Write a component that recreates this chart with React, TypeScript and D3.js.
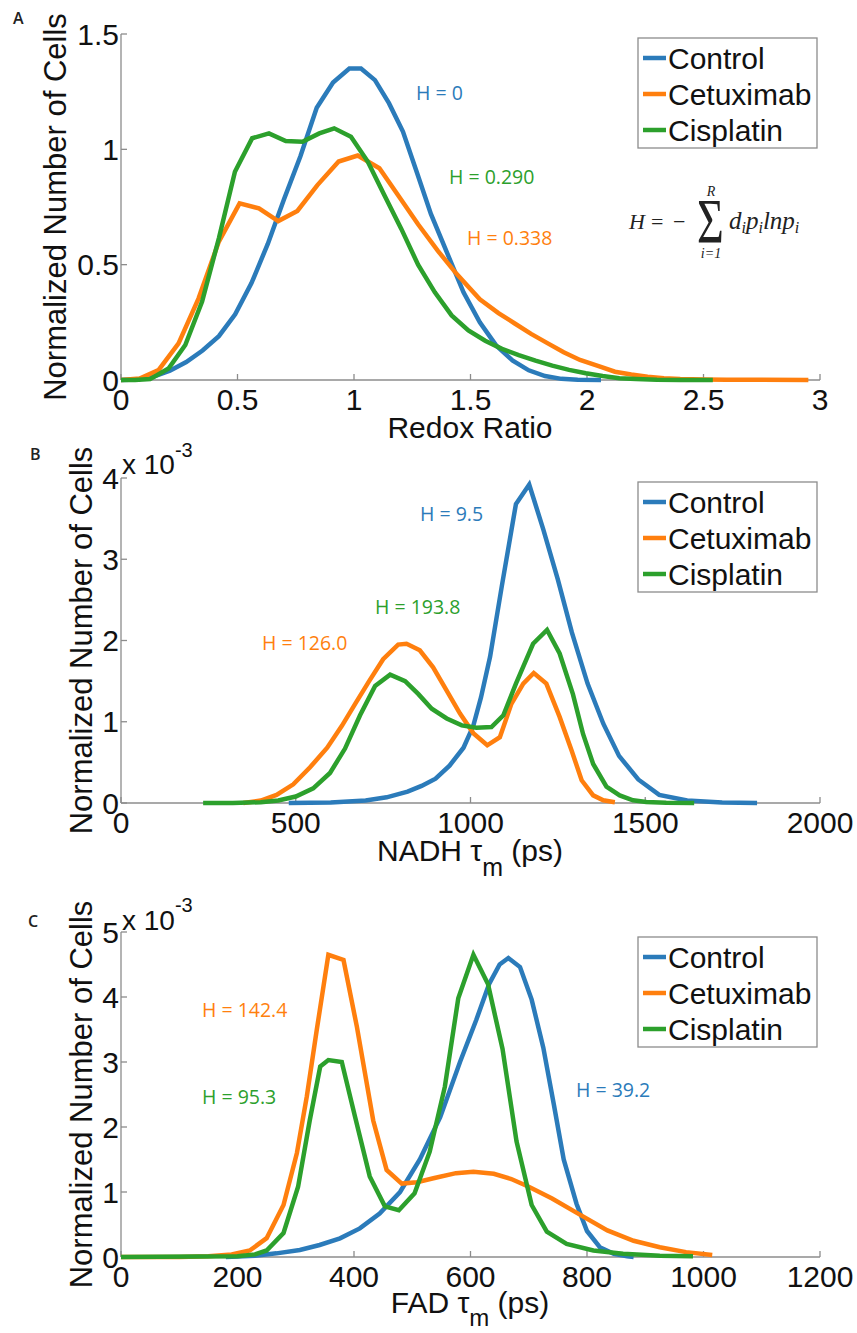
import React from 'react';
import * as d3 from 'd3';

type Pt = [number, number];

// ---------- series meta ----------
const seriesNames = ['Control', 'Cetuximab', 'Cisplatin'];
const seriesColors = ['#2b7bba', '#ff7f0e', '#2ca02c'];

// ---------- Panel A: Redox Ratio ----------
const redoxControl: Pt[] = [
  [0, 0], [0.07, 0.002], [0.14, 0.015], [0.21, 0.04], [0.28, 0.078], [0.35, 0.128], [0.42, 0.19],
  [0.49, 0.285], [0.56, 0.42], [0.63, 0.59], [0.7, 0.785], [0.77, 0.97], [0.84, 1.18], [0.91, 1.29],
  [0.98, 1.35], [1.03, 1.35], [1.09, 1.3], [1.15, 1.2], [1.21, 1.077], [1.27, 0.9], [1.33, 0.72],
  [1.4, 0.55], [1.47, 0.38], [1.54, 0.25], [1.61, 0.15], [1.68, 0.085], [1.75, 0.042], [1.82, 0.017],
  [1.89, 0.005], [1.96, 0.001], [2.06, 0],
];
const redoxCetuximab: Pt[] = [
  [0, 0], [0.08, 0.006], [0.161, 0.043], [0.247, 0.159], [0.333, 0.354], [0.42, 0.6], [0.509, 0.766],
  [0.592, 0.744], [0.675, 0.689], [0.757, 0.733], [0.843, 0.845], [0.934, 0.947], [1.016, 0.973],
  [1.109, 0.918], [1.19, 0.8], [1.275, 0.675], [1.36, 0.56], [1.44, 0.46], [1.54, 0.35], [1.62, 0.29],
  [1.69, 0.245], [1.76, 0.2], [1.83, 0.16], [1.9, 0.12], [1.97, 0.087], [2.05, 0.06], [2.12, 0.036],
  [2.19, 0.024], [2.26, 0.014], [2.33, 0.008], [2.4, 0.004], [2.5, 0.002], [2.6, 0.001], [2.95, 0],
];
const redoxCisplatin: Pt[] = [
  [0, 0], [0.06, 0], [0.125, 0.004], [0.204, 0.05], [0.276, 0.152], [0.348, 0.34], [0.42, 0.614],
  [0.489, 0.903], [0.563, 1.048], [0.635, 1.069], [0.707, 1.036], [0.779, 1.033], [0.851, 1.069],
  [0.915, 1.091], [0.987, 1.055], [1.059, 0.947], [1.131, 0.8], [1.203, 0.655], [1.275, 0.5],
  [1.347, 0.38], [1.419, 0.28], [1.491, 0.215], [1.563, 0.17], [1.635, 0.135], [1.707, 0.108],
  [1.779, 0.084], [1.851, 0.062], [1.923, 0.044], [1.995, 0.029], [2.067, 0.017], [2.139, 0.008],
  [2.211, 0.004], [2.3, 0.001], [2.4, 0], [2.54, 0],
];
const redoxTicksX = [0, 0.5, 1, 1.5, 2, 2.5, 3];
const redoxTicksY = [0, 0.5, 1, 1.5];
const redoxEntropy = ['H = 0', 'H = 0.338', 'H = 0.290'];

// ---------- Panel B: NADH tau_m (x 10^-3) ----------
const nadhControl: Pt[] = [
  [480, 0], [600, 0.005], [700, 0.03], [760, 0.07], [820, 0.14], [860, 0.21], [900, 0.3], [940, 0.46],
  [980, 0.68], [1008, 0.95], [1030, 1.3], [1056, 1.8], [1090, 2.68], [1130, 3.68], [1168, 3.92],
  [1208, 3.37], [1250, 2.75], [1290, 2.1], [1335, 1.47], [1380, 0.976], [1425, 0.58], [1480, 0.29],
  [1540, 0.1], [1620, 0.03], [1720, 0.005], [1820, 0],
];
const nadhCetuximab: Pt[] = [
  [350, 0], [400, 0.03], [445, 0.1], [493, 0.23], [541, 0.44], [590, 0.68], [632, 0.95], [670, 1.22],
  [710, 1.5], [750, 1.77], [793, 1.95], [817, 1.96], [855, 1.88], [893, 1.67], [931, 1.39], [970, 1.1],
  [1008, 0.86], [1048, 0.71], [1084, 0.81], [1117, 1.22], [1151, 1.47], [1181, 1.6], [1217, 1.47],
  [1255, 1.06], [1289, 0.65], [1318, 0.28], [1351, 0.094], [1380, 0.033], [1413, 0.01],
];
const nadhCisplatin: Pt[] = [
  [235, 0], [320, 0], [400, 0.01], [450, 0.03], [500, 0.08], [550, 0.18], [598, 0.37], [641, 0.67],
  [684, 1.08], [727, 1.44], [770, 1.58], [813, 1.5], [851, 1.34], [889, 1.16], [932, 1.04], [975, 0.955],
  [1017, 0.927], [1060, 0.935], [1094, 1.08], [1130, 1.47], [1179, 1.96], [1219, 2.13], [1255, 1.84],
  [1293, 1.34], [1322, 0.85], [1351, 0.48], [1389, 0.2], [1427, 0.094], [1465, 0.033], [1503, 0.012],
  [1560, 0.003], [1640, 0],
];
const nadhTicksX = [0, 500, 1000, 1500, 2000];
const nadhTicksY = [0, 1, 2, 3, 4];
const nadhEntropy = ['H = 9.5', 'H = 126.0', 'H = 193.8'];

// ---------- Panel C: FAD tau_m (x 10^-3) ----------
const fadControl: Pt[] = [
  [180, 0], [230, 0.02], [267, 0.056], [307, 0.108], [341, 0.185], [376, 0.287], [410, 0.44], [444, 0.67],
  [479, 1.0], [513, 1.5], [548, 2.15], [582, 3.0], [610, 3.65], [632, 4.2], [650, 4.5], [665, 4.6],
  [685, 4.46], [705, 3.96], [725, 3.22], [743, 2.35], [760, 1.5], [782, 0.82], [800, 0.4], [822, 0.15],
  [846, 0.05], [869, 0.01], [880, 0],
];
const fadCetuximab: Pt[] = [
  [0, 0], [100, 0], [150, 0.01], [190, 0.04], [221, 0.1], [250, 0.29], [279, 0.8], [302, 1.6], [319, 2.47],
  [336, 3.49], [356, 4.65], [382, 4.57], [405, 3.54], [433, 2.1], [456, 1.34], [482, 1.13], [508, 1.15],
  [540, 1.22], [575, 1.29], [605, 1.31], [640, 1.28], [670, 1.2], [700, 1.08], [740, 0.9], [790, 0.64],
  [835, 0.41], [880, 0.25], [925, 0.15], [970, 0.075], [1015, 0.03],
];
const fadCisplatin: Pt[] = [
  [0, 0], [200, 0.01], [230, 0.04], [250, 0.1], [279, 0.37], [304, 1.08], [324, 2.1], [342, 2.93],
  [356, 3.03], [379, 3.0], [402, 2.15], [427, 1.24], [453, 0.78], [477, 0.72], [504, 0.98], [530, 1.62],
  [556, 2.62], [579, 3.98], [605, 4.65], [630, 4.2], [655, 3.2], [679, 1.78], [705, 0.8], [731, 0.39],
  [765, 0.2], [811, 0.1], [862, 0.05], [925, 0.02], [982, 0.01],
];
const fadTicksX = [0, 200, 400, 600, 800, 1000, 1200];
const fadTicksY = [0, 1, 2, 3, 4, 5];
const fadEntropy = ['H = 39.2', 'H = 142.4', 'H = 95.3'];

const AX = '#8c8c8c';
const SANS = '"Liberation Sans", Arial, Helvetica, sans-serif';
const HFONT = '"Open Sans", "Noto Sans", sans-serif';

type HLab = { x: number; y: number };

interface PanelProps {
  letter: string;
  letterX: number;
  letterY: number;
  top: number;
  bottom: number;
  xDomain: [number, number];
  yDomain: [number, number];
  xTicks: number[];
  yTicks: number[];
  series: Pt[][];
  legendTop: number;
  ylabX: number;
  hTexts: string[];
  hPos: HLab[];
  xTitle: React.ReactNode;
  exponent?: { y: number; dy: number };
}

const LEFT = 121;
const RIGHT = 820;

function Panel(p: PanelProps) {
  const xs = d3.scaleLinear().domain(p.xDomain).range([LEFT, RIGHT]);
  const ys = d3.scaleLinear().domain(p.yDomain).range([p.bottom, p.top]);
  const line = d3.line<Pt>().x((d) => xs(d[0])).y((d) => ys(d[1]));
  const midY = (p.top + p.bottom) / 2;
  return (
    <g>
      <text x={p.letterX} y={p.letterY} fontFamily={HFONT} fontSize={16} fontWeight={600} fill="#222">
        {p.letter}
      </text>
      {/* axes */}
      <line x1={LEFT} x2={LEFT} y1={p.top} y2={p.bottom} stroke={AX} strokeWidth={1.3} />
      <line x1={LEFT} x2={RIGHT} y1={p.bottom} y2={p.bottom} stroke={AX} strokeWidth={1.3} />
      {p.yTicks.map((t) => (
        <g key={'y' + t}>
          <line x1={LEFT} x2={LEFT + 6} y1={ys(t)} y2={ys(t)} stroke={AX} strokeWidth={1.3} />
          <text x={LEFT - 2} y={ys(t) + 10.5} textAnchor="end" fontFamily={SANS} fontSize={30} fill="#111">
            {String(t)}
          </text>
        </g>
      ))}
      {p.xTicks.map((t) => (
        <g key={'x' + t}>
          <line x1={xs(t)} x2={xs(t)} y1={p.bottom} y2={p.bottom - 6} stroke={AX} strokeWidth={1.3} />
          <text x={xs(t)} y={p.bottom + 30} textAnchor="middle" fontFamily={SANS} fontSize={30} fill="#111">
            {String(t)}
          </text>
        </g>
      ))}
      {p.exponent && (
        <text x={122} y={p.exponent.y} fontFamily={SANS} fontSize={28} fill="#111">
          x 10
          <tspan dy={p.exponent.dy} fontSize={20}>-3</tspan>
        </text>
      )}
      <text
        transform={`translate(${p.ylabX},${midY}) rotate(-90)`}
        textAnchor="middle"
        fontFamily={SANS}
        fontSize={31}
        fill="#111"
      >
        Normalized Number of Cells
      </text>
      {p.xTitle}
      {/* series */}
      {p.series.map((s, i) => (
        <path key={i} d={line(s) || ''} fill="none" stroke={seriesColors[i]} strokeWidth={4.5} />
      ))}
      {/* entropy labels */}
      {p.hTexts.map((t, i) => (
        <text key={'h' + i} x={p.hPos[i].x} y={p.hPos[i].y + 7} fontFamily={HFONT} fontSize={19.5} fill={seriesColors[i]}>
          {t}
        </text>
      ))}
      {/* legend */}
      <rect x={638} y={p.legendTop} width={179} height={110} fill="#fff" stroke={AX} strokeWidth={1.3} />
      {seriesNames.map((n, i) => {
        const cy = p.legendTop + 20 + i * 36;
        return (
          <g key={n}>
            <line x1={643} x2={666} y1={cy} y2={cy} stroke={seriesColors[i]} strokeWidth={4.5} />
            <text x={668} y={cy + 11} fontFamily={SANS} fontSize={30} fill="#111">
              {n}
            </text>
          </g>
        );
      })}
    </g>
  );
}

function Formula() {
  const SERIF = '"Liberation Serif", "DejaVu Serif", serif';
  return (
    <g fontFamily={SERIF} fill="#222">
      <text x={629} y={229} fontSize={22} fontStyle="italic">H</text>
      <text x={651} y={229} fontSize={22}>=</text>
      <text x={673} y={229} fontSize={22}>−</text>
      <text transform="translate(697,243) scale(0.72,1)" fontSize={64}>Σ</text>
      <text x={711} y={196} fontSize={14} fontStyle="italic" textAnchor="middle">R</text>
      <text x={711} y={258} fontSize={14} fontStyle="italic" textAnchor="middle">i=1</text>
      <text x={729} y={229} fontSize={25} fontStyle="italic">
        d<tspan fontSize={16} dy={4}>i</tspan>
        <tspan dy={-4}>p</tspan>
        <tspan fontSize={16} dy={4}>i</tspan>
        <tspan dy={-4}>lnp</tspan>
        <tspan fontSize={16} dy={4}>i</tspan>
      </text>
    </g>
  );
}

export default function App() {
  return (
    <svg
      width={857}
      height={1333}
      viewBox="0 0 857 1333"
      style={{ position: 'absolute', left: 0, top: 0, background: '#fff' }}
    >
      <rect x={0} y={0} width={857} height={1333} fill="#fff" />
      <Panel
        letter="A"
        letterX={13}
        letterY={24}
        top={34}
        bottom={380}
        xDomain={[0, 3]}
        yDomain={[0, 1.5]}
        xTicks={redoxTicksX}
        yTicks={redoxTicksY}
        series={[redoxControl, redoxCetuximab, redoxCisplatin]}
        legendTop={38}
        ylabX={66}
        hTexts={redoxEntropy}
        hPos={[{ x: 416, y: 93 }, { x: 467, y: 238 }, { x: 449, y: 177 }]}
        xTitle={
          <text x={470} y={438} textAnchor="middle" fontFamily={SANS} fontSize={30} fill="#111">
            Redox Ratio
          </text>
        }
      />
      <Formula />
      <Panel
        letter="B"
        letterX={30}
        letterY={460}
        top={478}
        bottom={803}
        xDomain={[0, 2000]}
        yDomain={[0, 4]}
        xTicks={nadhTicksX}
        yTicks={nadhTicksY}
        series={[nadhControl, nadhCetuximab, nadhCisplatin]}
        legendTop={482}
        ylabX={92}
        hTexts={nadhEntropy}
        hPos={[{ x: 420, y: 514 }, { x: 262, y: 643 }, { x: 375, y: 607 }]}
        exponent={{ y: 474, dy: -17 }}
        xTitle={
          <text x={470} y={861} textAnchor="middle" fontFamily={SANS} fontSize={30} fill="#111">
            NADH τ<tspan fontSize={25} dy={15}>m</tspan>
            <tspan dy={-15}> (ps)</tspan>
          </text>
        }
      />
      <Panel
        letter="C"
        letterX={28}
        letterY={927}
        top={932}
        bottom={1257}
        xDomain={[0, 1200]}
        yDomain={[0, 5]}
        xTicks={fadTicksX}
        yTicks={fadTicksY}
        series={[fadControl, fadCetuximab, fadCisplatin]}
        legendTop={937}
        ylabX={92}
        hTexts={fadEntropy}
        hPos={[{ x: 576, y: 1090 }, { x: 202, y: 1010 }, { x: 202, y: 1097 }]}
        exponent={{ y: 930, dy: -18 }}
        xTitle={
          <text x={470} y={1313} textAnchor="middle" fontFamily={SANS} fontSize={30} fill="#111">
            FAD τ<tspan fontSize={24} dy={13}>m</tspan>
            <tspan dy={-13}> (ps)</tspan>
          </text>
        }
      />
    </svg>
  );
}
